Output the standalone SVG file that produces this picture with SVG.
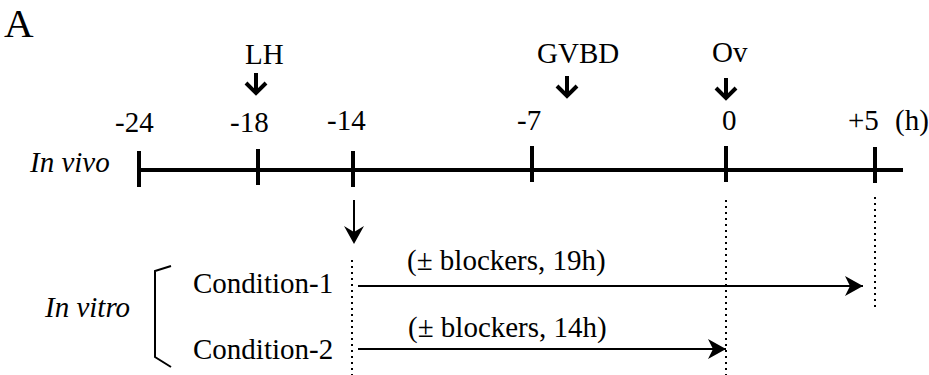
<svg xmlns="http://www.w3.org/2000/svg" xmlns:xlink="http://www.w3.org/1999/xlink" width="929" height="375" viewBox="0 0 929 375">
  <style>
    text { font-family: 'Liberation Serif', Tinos, 'Times New Roman', Times, 'DejaVu Serif', serif; font-size: 29px; fill: #000; }
    .it { font-style: italic; }
    .axis { stroke: #000; stroke-width: 4; fill: none; }
    .tick { stroke: #000; stroke-width: 4; }
    .dot { stroke: #000; stroke-width: 2; stroke-dasharray: 2 4; fill: none; }
    .thin { stroke: #000; stroke-width: 2; fill: none; }
    .bold-arrow { stroke: #000; stroke-width: 4; fill: none; stroke-linejoin: miter; }
  </style>
  <defs>
    <!-- stealth-style head pointing right -->
    <marker id="head-right" markerUnits="userSpaceOnUse" markerWidth="20" markerHeight="22" refX="18" refY="11" orient="auto" viewBox="0 0 20 22">
      <path d="M18,11 L0,1 L5,11 L0,21 Z" fill="#000"/>
    </marker>
    <!-- short bold event arrow, origin at stem top -->
    <g id="event-arrow">
      <path class="bold-arrow" d="M0,0 V19"/>
      <path class="bold-arrow" d="M-10,10 L0,20 L10,10"/>
    </g>
  </defs>

  <rect width="929" height="375" fill="#fff"/>

  <g font-family="Liberation Serif, serif">
  <text x="4" y="37" style="font-size:41px">A</text>

  <!-- in vivo timeline -->
  <g id="timeline">
    <text class="it" x="30" y="172">In vivo</text>
    <line class="axis" x1="137" y1="170" x2="903" y2="170"/>
    <line class="tick" x1="139" y1="151" x2="139" y2="187"/>
    <line class="tick" x1="258" y1="149" x2="258" y2="185"/>
    <line class="tick" x1="353" y1="151" x2="353" y2="187"/>
    <line class="tick" x1="532" y1="146" x2="532" y2="182"/>
    <line class="tick" x1="726" y1="146" x2="726" y2="182"/>
    <line class="tick" x1="875" y1="147" x2="875" y2="183"/>
  </g>

  <g id="tick-labels">
    <text x="115" y="132">-24</text>
    <text x="230" y="132">-18</text>
    <text x="327" y="130">-14</text>
    <text x="517" y="130">-7</text>
    <text x="722" y="130">0</text>
    <text x="848" y="130">+5</text>
    <text x="895" y="130">(h)</text>
  </g>

  <g id="event-lh">
    <text x="245" y="64">LH</text>
    <use xlink:href="#event-arrow" x="256" y="73"/>
  </g>
  <g id="event-gvbd">
    <text x="537" y="63">GVBD</text>
    <use xlink:href="#event-arrow" x="567" y="76"/>
  </g>
  <g id="event-ov">
    <text x="712" y="62">Ov</text>
    <use xlink:href="#event-arrow" x="726" y="78"/>
  </g>

  <!-- in vitro conditions -->
  <g id="in-vitro">
    <text class="it" x="45" y="317">In vitro</text>
    <path class="thin" d="M171,266 L155,271 V357 L171,367"/>
  </g>
  <g id="condition-1">
    <text x="193" y="293">Condition-1</text>
    <text x="407" y="270">(± blockers, 19h)</text>
  </g>
  <g id="condition-2">
    <text x="193" y="359">Condition-2</text>
    <text x="408" y="337">(± blockers, 14h)</text>
  </g>
  </g>

  <g id="connectors">
    <line class="dot" x1="352" y1="260" x2="352" y2="375"/>
    <line class="dot" x1="726" y1="200" x2="726" y2="375"/>
    <line class="dot" x1="875" y1="197" x2="875" y2="307"/>
    <line class="thin" x1="354" y1="200" x2="354" y2="236"/>
    <path d="M354,244 L344,226 L354,232 L364,226 Z" fill="#000"/>
    <line class="thin" x1="358" y1="286" x2="863" y2="286" marker-end="url(#head-right)"/>
    <line class="thin" x1="358" y1="349" x2="726" y2="349" marker-end="url(#head-right)"/>
  </g>
</svg>
